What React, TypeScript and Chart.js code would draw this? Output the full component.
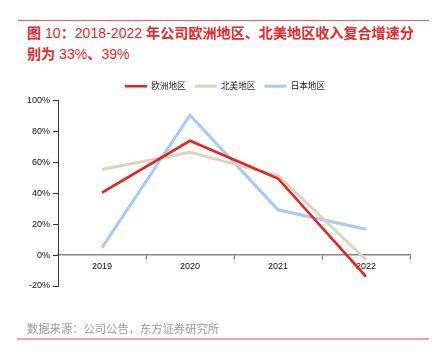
import React, { useEffect, useRef } from "react";
import { Chart, registerables } from "chart.js";

Chart.register(...registerables);

const years = ["2019", "2020", "2021", "2022"];
const europe = [40.5, 74, 49.6, -14];
const northAmerica = [55.4, 66.5, 51.5, -3];
const japan = [4.8, 90.5, 29.3, 16.7];
const seriesNames = ["欧洲地区", "北美地区", "日本地区"];
const seriesColors = ["#e8231f", "#ddd3c1", "#a8c9fb"];
const yMin = -20;
const yMax = 100;
const yStep = 20;

const titleLine1 = "图 10：2018-2022 年公司欧洲地区、北美地区收入复合增速分";
const titleLine2 = "别为 33%、39%";
const sourceText = "数据来源：公司公告，东方证券研究所";

const FONT = '"Liberation Sans", Arial, "Noto Sans CJK SC", sans-serif';

function TitleRuns({ text }: { text: string }) {
  const parts = text.match(/[\x20-\x7e]+|[^\x20-\x7e]+/g) || [];
  return (
    <>
      {parts.map((p, i) =>
        /^[\x20-\x7e]+$/.test(p) ? (
          <span key={i} style={{ fontWeight: 400 }}>
            {p}
          </span>
        ) : (
          <span key={i} style={{ fontWeight: 700 }}>
            {p}
          </span>
        )
      )}
    </>
  );
}

const legendShift = {
  id: "legendShift",
  afterLayout(chart: any) {
    if (chart.legend) {
      chart.legend.left = 40;
    }
  },
};

export default function App() {
  const canvasRef = useRef<HTMLCanvasElement | null>(null);

  useEffect(() => {
    const canvas = canvasRef.current;
    if (!canvas) return;
    const data = [europe, northAmerica, japan];
    const chart = new Chart(canvas, {
      type: "line",
      data: {
        labels: years,
        datasets: data.map((d, i) => ({
          label: seriesNames[i],
          data: d,
          borderColor: seriesColors[i],
          backgroundColor: seriesColors[i],
          borderWidth: i === 0 ? 2.6 : 3,
          pointRadius: 0,
          tension: 0,
          pointStyle: "line",
        })),
      },
      plugins: [legendShift],
      options: {
        responsive: false,
        animation: false,
        layout: { padding: { left: 0, right: 31, top: 73, bottom: 70 } },
        plugins: {
          tooltip: { enabled: false },
          legend: {
            display: true,
            position: "top",
            labels: {
              usePointStyle: true,
              pointStyleWidth: 22,
              padding: 9,
              color: "#222",
              font: { size: 8.6, family: FONT },
            },
          },
        },
        scales: {
          x: {
            type: "category",
            offset: true,
            position: { y: 0 } as any,
            grid: {
              display: true,
              drawOnChartArea: false,
              drawTicks: true,
              tickLength: 4,
              offset: true,
              color: "#777",
            },
            border: { display: true, color: "#888", width: 1.5 },
            ticks: {
              color: "#111",
              padding: 2,
              font: { size: 9, family: FONT },
              maxRotation: 0,
            },
          },
          y: {
            min: yMin,
            max: yMax,
            afterFit: (scale: any) => {
              scale.width = 58;
            },
            grid: {
              display: true,
              drawOnChartArea: false,
              drawTicks: true,
              tickLength: 5,
              color: "#333",
            },
            border: { display: true, color: "#333", width: 1 },
            ticks: {
              stepSize: yStep,
              padding: 3,
              color: "#111",
              font: { size: 9, family: FONT },
              callback: (v: any) => `${v}%`,
            },
          },
        },
      },
    });
    return () => chart.destroy();
  }, []);

  return (
    <div
      style={{
        position: "absolute",
        left: 0,
        top: 0,
        width: 441,
        height: 356,
        background: "#fff",
        overflow: "hidden",
      }}
    >
      <div
        style={{
          position: "absolute",
          left: 18,
          top: 20,
          width: 411,
          height: 1,
          background: "#e95a5a",
        }}
      />
      <div
        style={{
          position: "absolute",
          left: 27,
          top: 23,
          width: 420,
          fontFamily: '"Liberation Sans", "Noto Sans CJK SC", sans-serif',
          fontSize: 14.1,
          lineHeight: "21px",
          color: "#e52a2a",
          whiteSpace: "nowrap",
        }}
      >
        <div>
          <TitleRuns text={titleLine1} />
        </div>
        <div>
          <TitleRuns text={titleLine2} />
        </div>
      </div>
      <canvas
        ref={canvasRef}
        width={441}
        height={356}
        style={{ position: "absolute", left: 0, top: 0, width: 441, height: 356 }}
      />
      <div
        style={{
          position: "absolute",
          left: 27,
          top: 320,
          fontFamily: '"Noto Sans CJK SC", sans-serif',
          fontSize: 11.3,
          lineHeight: "16px",
          color: "#9a9a9a",
          whiteSpace: "nowrap",
        }}
      >
        {sourceText}
      </div>
      <div
        style={{
          position: "absolute",
          left: 17,
          top: 338,
          width: 412,
          height: 2,
          background: "#f0a3a3",
        }}
      />
    </div>
  );
}
